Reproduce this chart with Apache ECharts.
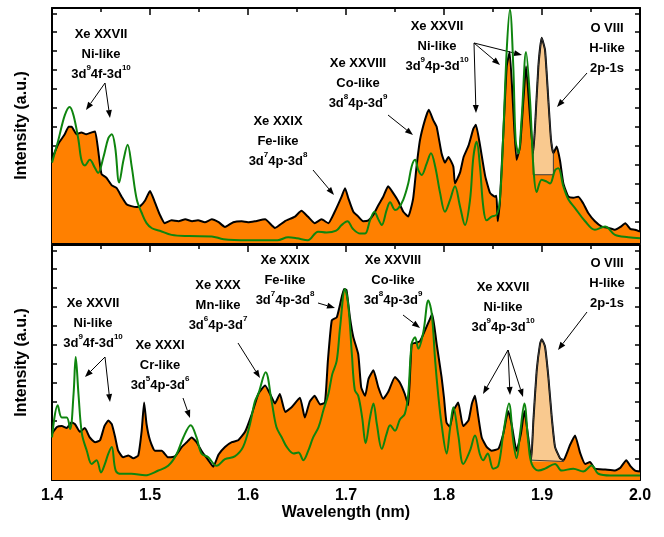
<!DOCTYPE html>
<html>
<head>
<meta charset="utf-8">
<script src="https://cdn.jsdelivr.net/npm/echarts@6/dist/echarts.min.js"></script>
<style>
html,body{margin:0;padding:0;background:#fff;}
#chart{width:664px;height:537px;}
</style>
</head>
<body>
<div id="chart"></div>
<script>
// [wavelength nm, intensity a.u.]
var topExp = [
	[1.400,4.3],[1.4065,5.1],[1.413,5.6],[1.417,6.0],[1.420,6.0],[1.4225,5.8],[1.425,5.6],[1.430,5.7],
	[1.435,5.6],[1.4405,5.7],[1.444,5.75],[1.447,4.8],[1.4505,3.5],[1.4555,3.3],[1.461,2.9],[1.466,2.75],
	[1.471,2.3],[1.476,1.9],[1.481,1.8],[1.4865,1.75],[1.490,1.8],[1.495,2.1],[1.500,2.6],[1.505,2.0],
	[1.510,1.35],[1.515,0.9],[1.522,1.05],[1.529,1.0],[1.536,1.1],[1.543,1.0],[1.549,1.05],[1.556,0.95],
	[1.563,1.1],[1.570,0.95],[1.5765,0.7],[1.585,0.95],[1.5935,1.0],[1.600,0.95],[1.607,1.0],[1.6175,1.1],
	[1.6275,0.65],[1.6375,1.0],[1.648,1.25],[1.6545,1.55],[1.661,1.25],[1.668,0.9],[1.675,1.1],[1.682,0.9],
	[1.6885,1.5],[1.6955,2.3],[1.699,2.75],[1.7025,2.2],[1.7075,1.5],[1.7125,1.25],[1.7175,1.0],[1.723,1.05],
	[1.728,1.35],[1.733,1.85],[1.738,2.3],[1.743,2.85],[1.748,2.5],[1.7535,2.05],[1.7585,1.5],[1.7635,1.25],
	[1.7685,2.2],[1.772,3.9],[1.7755,5.3],[1.7805,6.35],[1.7845,6.9],[1.789,6.35],[1.7925,6.0],[1.7975,4.6],
	[1.801,4.1],[1.8045,4.4],[1.8095,3.9],[1.8112,3.0],[1.8165,3.6],[1.820,4.4],[1.825,5.0],[1.830,5.9],
	[1.8325,6.1],[1.8365,5.1],[1.842,3.4],[1.847,2.5],[1.852,2.3],[1.8535,2.35],[1.8548,1.0],[1.857,2.0],
	[1.8605,5.6],[1.864,9.2],[1.867,9.95],[1.8707,6.9],[1.874,4.25],[1.8776,4.95],[1.881,7.4],[1.8837,9.2],
	[1.8878,6.5],[1.891,4.6],[1.8929,6.0],[1.8963,9.2],[1.8997,10.7],[1.9031,10.05],[1.9065,7.4],[1.9092,5.3],
	[1.9116,4.6],[1.915,4.95],[1.9184,4.2],[1.9218,3.0],[1.927,2.3],[1.932,2.25],[1.937,2.3],[1.942,1.95],
	[1.947,1.45],[1.954,1.0],[1.961,0.72],[1.968,0.65],[1.9745,0.55],[1.980,0.7],[1.985,0.9],[1.990,0.6],
	[1.995,0.55],[2.000,0.45]
];
var topCalc = [
	[1.400,4.1],[1.4065,5.3],[1.413,6.6],[1.418,7.05],[1.422,6.6],[1.427,5.3],[1.430,4.25],[1.4335,3.95],
	[1.4385,4.25],[1.444,3.8],[1.447,3.55],[1.4525,4.4],[1.4575,5.4],[1.461,5.6],[1.4645,4.9],[1.4685,3.05],
	[1.473,4.25],[1.4772,5.05],[1.4813,3.9],[1.4865,2.15],[1.4915,1.45],[1.4965,0.9],[1.502,0.63],[1.510,0.5],
	[1.522,0.28],[1.540,0.22],[1.563,0.2],[1.575,0.05],[1.600,0.0],[1.630,0.0],[1.641,0.15],[1.650,0.1],
	[1.661,0.0],[1.6715,0.45],[1.680,0.4],[1.690,0.5],[1.6955,0.8],[1.7015,1.0],[1.707,0.6],[1.7145,0.35],
	[1.7195,0.35],[1.7245,1.05],[1.729,1.5],[1.733,1.1],[1.7365,0.8],[1.7415,1.6],[1.745,2.0],[1.750,1.6],
	[1.7535,1.7],[1.7585,2.15],[1.7635,3.0],[1.767,3.9],[1.7705,4.25],[1.7738,3.7],[1.7772,3.45],[1.7823,4.05],
	[1.7867,4.6],[1.791,3.9],[1.796,2.5],[1.801,1.5],[1.806,2.1],[1.8112,2.85],[1.8163,1.8],[1.8214,0.8],
	[1.8265,2.1],[1.830,4.4],[1.8333,5.2],[1.8367,3.9],[1.840,1.8],[1.8435,1.05],[1.8486,1.25],[1.8537,1.35],
	[1.857,2.1],[1.8605,5.6],[1.864,10.05],[1.8673,12.2],[1.8707,9.2],[1.8731,5.3],[1.8759,4.6],[1.8793,6.5],
	[1.8837,9.95],[1.8878,7.4],[1.8912,3.9],[1.8946,2.55],[1.8997,3.2],[1.9048,3.1],[1.9082,3.0],[1.9133,3.7],
	[1.9167,3.8],[1.9218,2.85],[1.927,2.15],[1.9337,1.7],[1.944,1.0],[1.954,0.55],[1.9643,0.72],[1.9745,0.28],
	[1.988,0.16],[2.000,0.1]
];
var botExp = [
	[1.400,2.3],[1.405,2.65],[1.410,2.7],[1.415,2.6],[1.420,2.9],[1.4235,2.8],[1.4285,2.4],[1.4335,2.6],
	[1.4385,2.1],[1.444,1.85],[1.449,1.95],[1.4535,2.7],[1.4575,3.0],[1.461,2.8],[1.4645,2.1],[1.4675,1.4],
	[1.4725,1.05],[1.478,1.15],[1.483,1.0],[1.488,1.15],[1.4915,2.45],[1.494,3.95],[1.4965,2.8],[1.500,1.95],
	[1.505,1.4],[1.512,1.4],[1.5185,1.05],[1.5255,1.1],[1.5325,1.6],[1.5375,1.85],[1.5425,2.1],[1.5475,1.85],
	[1.5525,1.4],[1.5595,0.9],[1.5645,0.55],[1.570,1.2],[1.5765,1.6],[1.5835,1.85],[1.590,1.95],[1.597,2.4],
	[1.604,3.35],[1.6105,4.4],[1.6175,4.85],[1.6225,4.4],[1.6275,3.9],[1.6325,4.4],[1.638,3.45],[1.6445,3.7],
	[1.653,4.2],[1.658,3.15],[1.663,4.0],[1.668,4.3],[1.6735,3.85],[1.6785,3.95],[1.6815,6.15],[1.6855,8.3],
	[1.6905,8.45],[1.694,9.15],[1.698,9.95],[1.7005,9.9],[1.704,8.45],[1.7075,7.4],[1.7125,6.5],[1.7155,4.75],
	[1.7195,4.3],[1.723,5.2],[1.728,5.65],[1.733,4.75],[1.738,4.15],[1.743,4.5],[1.750,5.3],[1.755,5.0],
	[1.760,4.4],[1.7635,3.8],[1.767,7.05],[1.7705,7.1],[1.7755,7.2],[1.7805,7.75],[1.7855,8.35],[1.788,8.65],
	[1.7925,7.05],[1.7975,5.3],[1.800,4.2],[1.8025,2.9],[1.806,2.65],[1.8095,3.5],[1.8145,3.95],[1.8195,2.7],
	[1.825,3.0],[1.8285,3.9],[1.8316,4.3],[1.835,3.2],[1.8385,2.1],[1.8435,1.6],[1.8485,1.4],[1.8555,1.5],
	[1.8605,2.3],[1.8655,3.5],[1.869,2.8],[1.874,1.4],[1.8785,2.3],[1.882,3.5],[1.886,2.1],[1.889,0.9],
	[1.8912,3.0],[1.8946,5.65],[1.898,7.05],[1.8997,7.3],[1.9031,6.9],[1.9065,5.3],[1.9099,3.2],[1.9133,1.6],
	[1.9184,1.0],[1.922,0.9],[1.9252,1.25],[1.9286,1.7],[1.9337,2.2],[1.9388,1.3],[1.944,0.7],[1.949,0.8],
	[1.954,0.45],[1.9645,0.4],[1.9745,0.35],[1.980,0.5],[1.986,0.9],[1.990,0.6],[1.995,0.35],[2.000,0.3]
];
var botCalc = [
	[1.400,2.1],[1.4058,3.8],[1.410,3.15],[1.415,3.15],[1.4185,2.55],[1.422,4.4],[1.4242,6.35],[1.427,4.4],
	[1.4305,2.3],[1.4355,1.4],[1.4405,0.7],[1.4455,0.9],[1.450,0.25],[1.454,0.7],[1.4575,1.25],[1.461,1.6],
	[1.465,0.35],[1.471,0.18],[1.481,0.18],[1.495,0.1],[1.5085,0.35],[1.5185,0.6],[1.527,1.2],[1.534,2.1],
	[1.5415,2.75],[1.5475,2.1],[1.5525,1.25],[1.5595,1.05],[1.568,0.6],[1.5765,0.95],[1.5865,1.1],[1.595,1.6],
	[1.602,2.8],[1.607,4.0],[1.6105,4.4],[1.618,5.55],[1.624,4.05],[1.629,2.65],[1.6345,2.1],[1.6395,1.6],
	[1.6465,1.25],[1.6515,1.3],[1.6565,0.9],[1.6615,1.4],[1.6665,2.1],[1.672,2.65],[1.677,3.55],[1.682,4.4],
	[1.686,5.45],[1.6905,6.15],[1.694,7.95],[1.699,9.95],[1.7025,9.0],[1.706,6.5],[1.709,4.6],[1.7125,4.3],
	[1.7165,3.15],[1.720,1.8],[1.7245,3.15],[1.728,3.9],[1.7315,2.8],[1.7365,1.5],[1.7415,2.3],[1.745,2.75],
	[1.750,2.45],[1.755,3.05],[1.760,3.35],[1.7635,4.4],[1.767,7.05],[1.7705,7.4],[1.7738,6.8],[1.779,7.7],
	[1.784,9.35],[1.7875,8.65],[1.791,6.15],[1.794,4.4],[1.7975,2.8],[1.8027,1.25],[1.806,2.5],[1.8095,3.7],
	[1.8146,2.2],[1.8197,0.7],[1.8265,1.4],[1.8316,2.2],[1.8367,1.2],[1.840,0.9],[1.8446,1.25],[1.8503,0.45],
	[1.8554,0.6],[1.8605,2.3],[1.8663,3.9],[1.8707,1.9],[1.8741,1.0],[1.8776,2.3],[1.882,3.9],[1.8861,1.8],
	[1.8895,0.7],[1.8963,0.35],[1.9031,0.45],[1.9133,0.7],[1.9201,0.35],[1.932,0.45],[1.942,0.3],[1.9507,0.62],
	[1.9575,0.18],[1.970,0.09],[2.000,0.09]
];
// O VIII 2p-1s line, shaded above a flat base
var bandRange = [[1.891, 1.9116], [1.889, 1.922]];
var bandBase = [3.46, 0.83];
var xTicks = [1.4, 1.5, 1.6, 1.7, 1.8, 1.9, 2.0];
var yTicks = [0,1,2,3,4,5,6,7,8,9,10,11,12];

var FONT = '"Liberation Sans", Arial, sans-serif',
	ORANGE = '#FF8000',
	LIGHT = '#F9C98F',
	GREEN = '#0E850E';

function xAx(grid, pos, labels){
	return {
		type: 'value', gridIndex: grid, position: pos,
		min: 1.4, max: 2.0, interval: 0.1,
		axisLine: {show: true, onZero: false, lineStyle: {color: '#000', width: 2}},
		axisTick: {show: true, inside: true, length: 7, lineStyle: {color: '#000', width: 1.5}},
		minorTick: {show: true, splitNumber: 2, length: 4, lineStyle: {color: '#000', width: 1.5}},
		splitLine: {show: false},
		axisLabel: {
			show: labels, margin: 8, color: '#000', fontSize: 16, fontWeight: 'bold', fontFamily: FONT,
			formatter: function(v){ return v.toFixed(1); }
		},
		name: labels ? 'Wavelength (nm)' : '',
		nameLocation: 'middle', nameGap: 25,
		nameTextStyle: {color: '#000', fontSize: 16, fontWeight: 'bold', fontFamily: FONT}
	};
}

function yAx(grid, pos){
	return {
		type: 'value', gridIndex: grid, position: pos,
		min: -0.15, max: 12.28,
		axisLine: {show: true, onZero: false, lineStyle: {color: '#000', width: 2}},
		axisTick: {show: true, inside: true, length: 5, customValues: yTicks, lineStyle: {color: '#000', width: 1.5}},
		splitLine: {show: false},
		axisLabel: {show: false},
		name: pos == 'left' ? 'Intensity (a.u.)' : '',
		nameLocation: 'middle', nameGap: 22,
		nameTextStyle: {color: '#000', fontSize: 16, fontWeight: 'bold', fontFamily: FONT}
	};
}

function inBand(data, r){
	return data.filter(function(p){ return p[0] >= r[0] - 1e-9 && p[0] <= r[1] + 1e-9; });
}

function panelSeries(idx, exp, calc){
	var band = inBand(exp, bandRange[idx]),
		lo = band[0], hi = band[band.length-1], base = bandBase[idx];
	return [
		{
			type: 'line', xAxisIndex: idx*2, yAxisIndex: idx*2, data: exp,
			symbol: 'none', smooth: 0.15,
			lineStyle: {color: '#000', width: 2},
			areaStyle: {color: ORANGE, opacity: 1, origin: 'start'}
		},
		{
			type: 'line', xAxisIndex: idx*2, yAxisIndex: idx*2, data: band,
			symbol: 'none', smooth: 0.15,
			lineStyle: {color: '#3a3a3a', width: 1},
			areaStyle: {color: LIGHT, opacity: 1, origin: base}
		},
		{
			type: 'line', xAxisIndex: idx*2, yAxisIndex: idx*2,
			data: [[lo[0], lo[1]], [lo[0], base], [hi[0], base], [hi[0], hi[1]]],
			symbol: 'none', lineStyle: {color: '#3a3a3a', width: 1}
		},
		{
			type: 'line', xAxisIndex: idx*2, yAxisIndex: idx*2, data: calc,
			symbol: 'none', smooth: 0.35,
			lineStyle: {color: GREEN, width: 2}
		}
	];
}

// annotations
function note(cx, cy, txt){
	return {
		type: 'text', x: cx, y: cy - 10, silent: true,
		style: {
			text: txt, fill: '#000', align: 'center', verticalAlign: 'top',
			fontSize: 13, fontWeight: 'bold', fontFamily: FONT, lineHeight: 20,
			rich: {s: {fontSize: 8, fontWeight: 'bold', fontFamily: FONT, verticalAlign: 'top', lineHeight: 12, fill: '#000'}}
		}
	};
}

function arrow(x1, y1, x2, y2){
	var a = Math.atan2(y2-y1, x2-x1), L = 8, W = 3,
		bx = x2 - L*Math.cos(a), by = y2 - L*Math.sin(a);
	return {
		type: 'group', silent: true,
		children: [
			{type: 'line', shape: {x1: x1, y1: y1, x2: bx, y2: by}, style: {stroke: '#000', lineWidth: 1}},
			{type: 'polygon', shape: {points: [[x2, y2], [bx - W*Math.sin(a), by + W*Math.cos(a)], [bx + W*Math.sin(a), by - W*Math.cos(a)]]}, style: {fill: '#000'}}
		]
	};
}

var graphics = [
	note(101, 34, 'Xe XXVII\nNi-like\n3d{s|9}4f-3d{s|10}'),
	arrow(105, 83, 86, 110), arrow(105, 83, 110, 118),
	note(278, 121, 'Xe XXIX\nFe-like\n3d{s|7}4p-3d{s|8}'),
	arrow(313, 170, 334, 195),
	note(358, 63, 'Xe XXVIII\nCo-like\n3d{s|8}4p-3d{s|9}'),
	arrow(388, 115, 413, 135),
	note(437, 26, 'Xe XXVII\nNi-like\n3d{s|9}4p-3d{s|10}'),
	arrow(474, 43, 476, 113), arrow(474, 43, 500, 65), arrow(474, 43, 522, 55),
	note(607, 28, 'O VIII\nH-like\n2p-1s'),
	arrow(587, 73, 557, 107),

	note(93, 303, 'Xe XXVII\nNi-like\n3d{s|9}4f-3d{s|10}'),
	arrow(105, 357, 85, 377), arrow(105, 357, 110, 402),
	note(160, 345, 'Xe XXXI\nCr-like\n3d{s|5}4p-3d{s|6}'),
	arrow(183, 398, 190, 418),
	note(218, 285, 'Xe XXX\nMn-like\n3d{s|6}4p-3d{s|7}'),
	arrow(238, 343, 260, 378),
	note(285, 260, 'Xe XXIX\nFe-like\n3d{s|7}4p-3d{s|8}'),
	arrow(318, 303, 335, 308),
	note(393, 260, 'Xe XXVIII\nCo-like\n3d{s|8}4p-3d{s|9}'),
	arrow(403, 315, 420, 328),
	note(503, 287, 'Xe XXVII\nNi-like\n3d{s|9}4p-3d{s|10}'),
	arrow(508, 350, 483, 394), arrow(508, 350, 510, 395), arrow(508, 350, 523, 397),
	note(607, 263, 'O VIII\nH-like\n2p-1s'),
	arrow(587, 312, 558, 350)
];

var chart = echarts.init(document.getElementById('chart'), null, {renderer: 'canvas'}),
	option = {
		animation: false,
		backgroundColor: '#fff',
		grid: [
			{left: 52, top: 8, width: 588, height: 235},
			{left: 52, top: 245, width: 588, height: 235}
		],
		xAxis: [xAx(0, 'bottom', false), xAx(0, 'top', false), xAx(1, 'bottom', true), xAx(1, 'top', false)],
		yAxis: [yAx(0, 'left'), yAx(0, 'right'), yAx(1, 'left'), yAx(1, 'right')],
		series: [].concat(panelSeries(0, topExp, topCalc), panelSeries(1, botExp, botCalc)),
		graphic: graphics
	};

chart.setOption(option);
</script>
</body>
</html>
